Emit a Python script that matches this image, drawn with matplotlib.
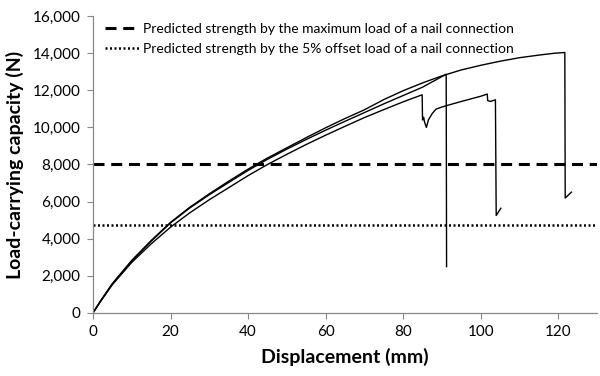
import matplotlib.pyplot as plt
from matplotlib.ticker import FuncFormatter

plt.rcParams['font.family'] = ['Lato', 'DejaVu Sans']

# test curves (displacement mm, load N)
a_x = [0, 2, 5, 10, 15, 20, 25, 30, 35, 40, 45, 50, 55, 60, 65, 70, 75, 80, 85, 90,
       95, 100, 105, 110, 115, 119, 121.7, 121.8, 123.4]
a_y = [0, 660, 1580, 2830, 3900, 4880, 5700, 6420, 7100, 7750, 8350, 8900, 9450, 9980,
       10480, 10950, 11500, 11980, 12400, 12780, 13100, 13350, 13570, 13760, 13900, 14000,
       14040, 6190, 6510]

b_x = [0, 2, 5, 10, 15, 20, 25, 30, 35, 40, 45, 50, 55, 60, 65, 70, 75, 80, 85, 91.1, 91.2]
b_y = [0, 650, 1560, 2800, 3860, 4850, 5660, 6370, 7030, 7680, 8280, 8830, 9350, 9850,
       10330, 10800, 11270, 11720, 12170, 12870, 2490]

c_x = [0, 2, 5, 10, 15, 20, 25, 30, 35, 40, 45, 50, 55, 60, 65, 70, 75, 80, 84.9, 85.0,
       85.3, 85.5, 86.0, 86.5, 87.5, 88.5, 90, 91.1, 95, 100, 101.7, 101.8, 102.5, 103.8,
       104.0, 105.2]
c_y = [0, 630, 1520, 2720, 3720, 4620, 5400, 6100, 6750, 7400, 8000, 8550, 9080, 9580,
       10060, 10530, 10960, 11380, 11760, 10400, 10550, 10300, 10000, 10400, 10750, 10990,
       11100, 11170, 11400, 11680, 11800, 11450, 11400, 11490, 5250, 5640]

max_load_strength = 8000
offset_strength = 4750

fig = plt.figure(figsize=(6, 3.76), dpi=100)
ax = fig.add_axes([0.155, 0.168, 0.84, 0.789])

ax.axhline(max_load_strength, color='black', lw=2.2, ls=(0, (3.6, 2.2)),
           solid_capstyle='butt',
           label='Predicted strength by the maximum load of a nail connection')
ax.axhline(offset_strength, color='black', lw=1.8, ls=(0, (0.8, 1.0)),
           label='Predicted strength by the 5% offset load of a nail connection')

for xs, ys in [(a_x, a_y), (b_x, b_y), (c_x, c_y)]:
    ax.plot(xs, ys, color='black', lw=1.0)

ax.set_xlim(0, 130)
ax.set_ylim(0, 16000)
ax.set_xticks(range(0, 121, 20))
ax.set_yticks(range(0, 16001, 2000))
ax.yaxis.set_major_formatter(FuncFormatter(lambda v, p: f'{int(v):,}'))

for side in ['top', 'right']:
    ax.spines[side].set_visible(False)
for side in ['left', 'bottom']:
    ax.spines[side].set_color('#888888')
    ax.spines[side].set_linewidth(0.9)
ax.tick_params(axis='both', direction='out', length=4, color='#888888',
               labelsize=11, labelcolor='black', pad=5)

ax.set_xlabel('Displacement (mm)', fontsize=14, fontweight='bold', labelpad=6)
ax.set_ylabel('Load-carrying capacity (N)', fontsize=14, fontweight='bold', labelpad=6)

ax.legend(loc='upper left', frameon=False, fontsize=10, handlelength=2.4,
          handletextpad=0.3, borderaxespad=0.3, labelspacing=0.55,
          bbox_to_anchor=(0.005, 1.01))

fig.savefig('out.png', dpi=100)
